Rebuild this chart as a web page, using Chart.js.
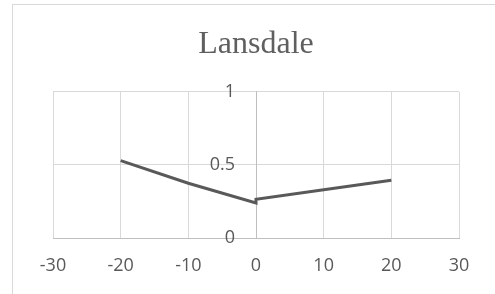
<!DOCTYPE html>
<html>
<head>
<meta charset="utf-8">
<script src="https://cdn.jsdelivr.net/npm/chart.js@4"></script>
<style>
  html, body { margin: 0; padding: 0; background: #fff; overflow: hidden; }
  #wrap { position: relative; width: 495px; height: 294px; overflow: hidden; }
  #frame { position: absolute; left: 12px; top: 4px; width: 600px; height: 400px; border: 1px solid #d9d9d9; }
  #lansChart { position: absolute; left: 0; top: 0; }
</style>
</head>
<body>
<div id="wrap">
  <div id="frame"></div>
  <canvas id="lansChart" width="495" height="294"></canvas>
</div>
<script>
// values
const xVals = [-20, -10, 0, 0, 10, 20];
const yVals = [0.53, 0.375, 0.24, 0.265, 0.33, 0.395];
const xTicks = [-30, -20, -10, 0, 10, 20, 30];
const yTicks = [0, 0.5, 1];
const yLabels = ['0', '0.5', '1'];

const points = xVals.map((x, i) => ({ x: x, y: yVals[i] }));

// chart.js ignores tick padding when the axis sits at {x:0}, so the y labels are drawn here
const yLabelPlugin = {
    id: 'yLabels',
    afterDatasetsDraw(chart) {
        const ctx = chart.ctx;
        const xs = chart.scales.x, ys = chart.scales.y;
        const ax = xs.getPixelForValue(0);
        ctx.save();
        ctx.fillStyle = '#595959';
        ctx.font = '18px "Open Sans", sans-serif';
        ctx.textAlign = 'right';
        ctx.textBaseline = 'middle';
        yTicks.forEach((v, i) => {
            ctx.fillText(yLabels[i], ax - 21, ys.getPixelForValue(v));
        });
        ctx.restore();
    }
};

const chart = new Chart(document.getElementById('lansChart'), {
    type: 'scatter',
    data: {
        datasets: [{
            label: 'Lansdale',
            data: points,
            showLine: true,
            borderColor: '#595959',
            borderWidth: 3,
            borderCapStyle: 'butt',
            borderJoinStyle: 'miter',
            pointRadius: 0,
            tension: 0
        }]
    },
    options: {
        responsive: false,
        animation: false,
        layout: { padding: { left: 53, right: 36, top: 0, bottom: 0 } },
        plugins: {
            legend: { display: false },
            tooltip: { enabled: false },
            title: {
                display: true,
                text: 'Lansdale',
                color: '#5f5f5f',
                font: { family: '"Liberation Serif", serif', size: 32, weight: 'normal' },
                padding: { top: 25.5, bottom: 28 }
            }
        },
        scales: {
            x: {
                type: 'linear',
                min: -30, max: 30,
                afterBuildTicks: s => { s.ticks = xTicks.map(v => ({ value: v })); },
                grid: { color: '#d9d9d9', drawTicks: false },
                border: { color: '#bfbfbf', width: 1 },
                ticks: {
                    color: '#595959',
                    padding: 19,
                    font: { family: '"Open Sans", sans-serif', size: 18, lineHeight: 1 }
                }
            },
            y: {
                type: 'linear',
                position: { x: 0 },
                min: 0, max: 1,
                afterBuildTicks: s => { s.ticks = yTicks.map(v => ({ value: v })); },
                grid: { color: '#d9d9d9', drawTicks: false },
                border: { color: '#bfbfbf', width: 1 },
                ticks: { display: false }
            }
        }
    },
    plugins: [yLabelPlugin]
});
</script>
</body>
</html>
